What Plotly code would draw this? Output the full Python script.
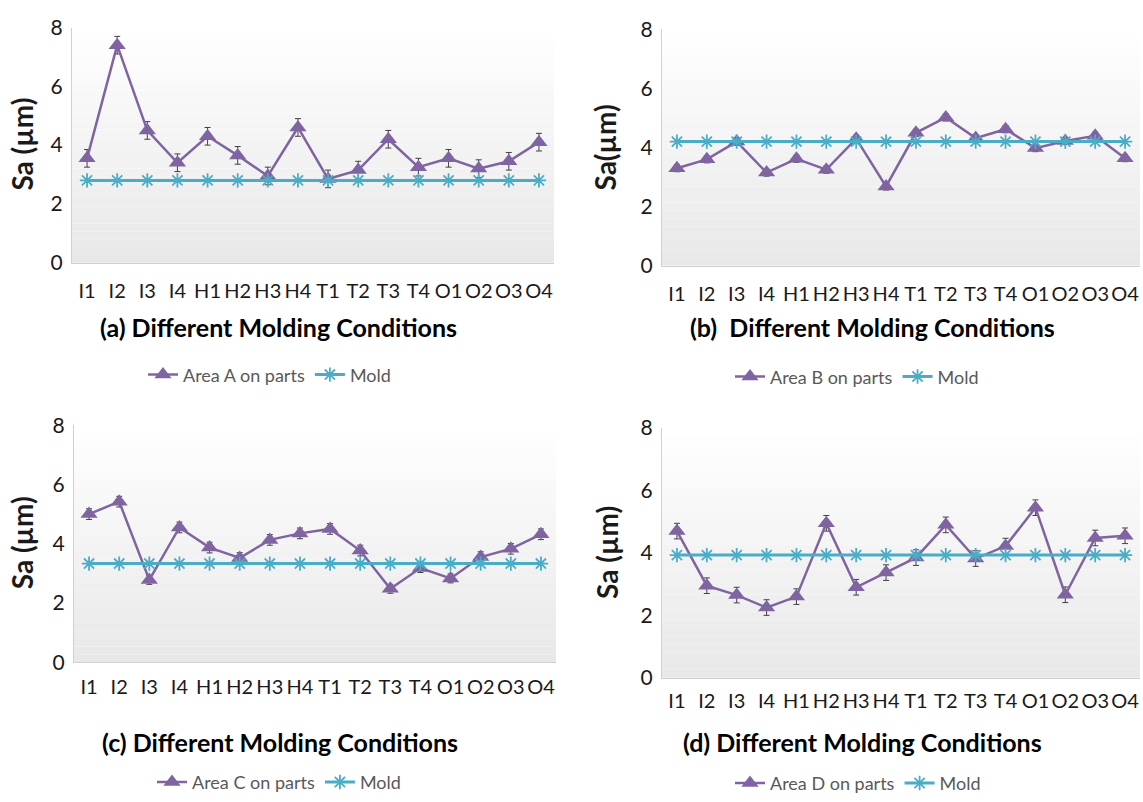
import plotly.graph_objects as go

categories = ["I1", "I2", "I3", "I4", "H1", "H2", "H3", "H4",
              "T1", "T2", "T3", "T4", "O1", "O2", "O3", "O4"]

area_a = [3.55, 7.4, 4.5, 3.4, 4.3, 3.65, 2.95, 4.6, 2.85, 3.15, 4.2, 3.25, 3.55, 3.2, 3.45, 4.1]
err_a = [0.3, 0.3, 0.3, 0.3, 0.3, 0.3, 0.3, 0.3, 0.3, 0.3, 0.3, 0.3, 0.3, 0.3, 0.3, 0.3]
mold_a = [2.8, 2.8, 2.8, 2.8, 2.8, 2.8, 2.8, 2.8, 2.8, 2.8, 2.8, 2.8, 2.8, 2.8, 2.8, 2.8]

area_b = [3.3, 3.6, 4.2, 3.15, 3.62, 3.25, 4.3, 2.68, 4.5, 5.02, 4.32, 4.62, 3.98, 4.22, 4.4, 3.64]
err_b = [0.12, 0.12, 0.12, 0.12, 0.12, 0.12, 0.12, 0.12, 0.12, 0.12, 0.12, 0.12, 0.12, 0.12, 0.12, 0.12]
mold_b = [4.2, 4.2, 4.2, 4.2, 4.2, 4.2, 4.2, 4.2, 4.2, 4.2, 4.2, 4.2, 4.2, 4.2, 4.2, 4.2]

area_c = [5.0, 5.42, 2.78, 4.55, 3.87, 3.52, 4.13, 4.35, 4.5, 3.77, 2.48, 3.18, 2.83, 3.55, 3.83, 4.32]
err_c = [0.18, 0.18, 0.15, 0.18, 0.18, 0.18, 0.18, 0.18, 0.18, 0.18, 0.15, 0.15, 0.15, 0.18, 0.18, 0.18]
mold_c = [3.33, 3.33, 3.33, 3.33, 3.33, 3.33, 3.33, 3.33, 3.33, 3.33, 3.33, 3.33, 3.33, 3.33, 3.33, 3.33]

area_d = [4.7, 2.95, 2.65, 2.25, 2.6, 4.95, 2.9, 3.37, 3.85, 4.9, 3.82, 4.22, 5.45, 2.66, 4.48, 4.55]
err_d = [0.25, 0.25, 0.25, 0.25, 0.25, 0.25, 0.25, 0.25, 0.25, 0.25, 0.25, 0.25, 0.25, 0.25, 0.25, 0.25]
mold_d = [3.93, 3.93, 3.93, 3.93, 3.93, 3.93, 3.93, 3.93, 3.93, 3.93, 3.93, 3.93, 3.93, 3.93, 3.93, 3.93]

area_names = ["Area A on parts", "Area B on parts", "Area C on parts", "Area D on parts"]
captions = ["(a) Different Molding Conditions", "(b)  Different Molding Conditions",
            "(c) Different Molding Conditions", "(d) Different Molding Conditions"]
ytitles = ["Sa (µm)", "Sa(µm)", "Sa (µm)", "Sa (µm)"]

W, H = 1143, 802
FONT = "Lato"
PURPLE = "#8064A2"
AQUA = "#4BACC6"

# pixel boxes (left, right, top, bottom) for each plot area
boxes = [(72, 554, 14, 257), (662, 1140, 16, 260), (74, 556, 425, 670), (662, 1140, 428, 686)]
xlabel_standoff = [10, 10, 7, 5]
ytitle_pos = [(22, 135), (605, 138), (22, 547), (607, 557)]
caption_pos = [(278, 324), (872, 324), (280, 752), (862, 752)]
legend_pos = [(143, 373), (730, 375), (152, 794), (730, 795)]

series = [(area_a, err_a, mold_a), (area_b, err_b, mold_b),
          (area_c, err_c, mold_c), (area_d, err_d, mold_d)]

fig = go.Figure()
layout = {}
shapes = []
annotations = []

for i, (vals, errs, mold) in enumerate(series):
    n = i + 1
    sfx = "" if n == 1 else str(n)
    xa, ya = "x" + sfx, "y" + sfx
    lg = "legend" + sfx
    fig.add_trace(go.Scatter(
        x=categories, y=vals, name=area_names[i], mode="lines+markers",
        xaxis=xa, yaxis=ya, legend=lg,
        line=dict(color=PURPLE, width=2.5),
        marker=dict(symbol="triangle-up", size=15, color=PURPLE),
        error_y=dict(type="data", array=errs, color="#404040", thickness=1, width=3),
    ))
    fig.add_trace(go.Scatter(
        x=categories, y=mold, name="Mold", mode="lines+markers",
        xaxis=xa, yaxis=ya, legend=lg,
        line=dict(color=AQUA, width=3),
        marker=dict(symbol="asterisk-open", size=12, color=AQUA, line=dict(color=AQUA, width=1.8)),
    ))
    l, r, t, b = boxes[i]
    layout["xaxis" + sfx] = dict(
        domain=[l / W, r / W], anchor=ya, type="category", range=[-0.5, 15.5],
        showline=True, linecolor="#D0D0D0", linewidth=1, showgrid=False, ticks="",
        ticklabelstandoff=xlabel_standoff[i],
        tickfont=dict(family=FONT, size=20, color="#1a1a1a"), fixedrange=True,
    )
    layout["yaxis" + sfx] = dict(
        domain=[1 - b / H, 1 - t / H], anchor=xa, range=[0, 8], dtick=2,
        showline=True, linecolor="#D0D0D0", linewidth=1, showgrid=False, zeroline=False,
        ticks="", ticklabelstandoff=4,
        tickfont=dict(family=FONT, size=21, color="#1a1a1a"), fixedrange=True,
    )
    lx, ly = legend_pos[i]
    layout[lg] = dict(
        x=lx / W, y=1 - ly / H, xanchor="left", yanchor="middle", orientation="h",
        font=dict(family=FONT, size=18, color="#595959"), bgcolor="rgba(0,0,0,0)",
        itemwidth=30, tracegroupgap=0,
    )
    # gradient background bands
    nb = 30
    for k in range(nb):
        g = int(round(255 - (255 - 232) * (k + 0.5) / nb))
        shapes.append(dict(
            type="rect", xref=xa + " domain", yref=ya + " domain",
            x0=0, x1=1, y0=1 - (k + 1) / nb, y1=1 - k / nb,
            fillcolor=f"rgb({g},{g},{g})", line=dict(width=0), layer="below",
        ))
    tx, ty = ytitle_pos[i]
    annotations.append(dict(
        text=f"<b>{ytitles[i]}</b>", x=tx / W, y=1 - ty / H, xref="paper", yref="paper",
        showarrow=False, textangle=-90, font=dict(family=FONT, size=28, color="#1a1a1a"),
        xanchor="center", yanchor="middle",
    ))
    cx, cy = caption_pos[i]
    annotations.append(dict(
        text=f"<b>{captions[i]}</b>", x=cx / W, y=1 - cy / H, xref="paper", yref="paper",
        showarrow=False, font=dict(family=FONT, size=25, color="#000000"),
        xanchor="center", yanchor="middle",
    ))

fig.update_layout(
    width=W, height=H, margin=dict(l=0, r=0, t=0, b=0),
    paper_bgcolor="white", plot_bgcolor="rgba(0,0,0,0)",
    shapes=shapes, annotations=annotations, **layout,
)

fig.write_html("out.html", config={"displayModeBar": False},
               post_script="document.body.style.margin='0';document.body.style.overflow='hidden';")
